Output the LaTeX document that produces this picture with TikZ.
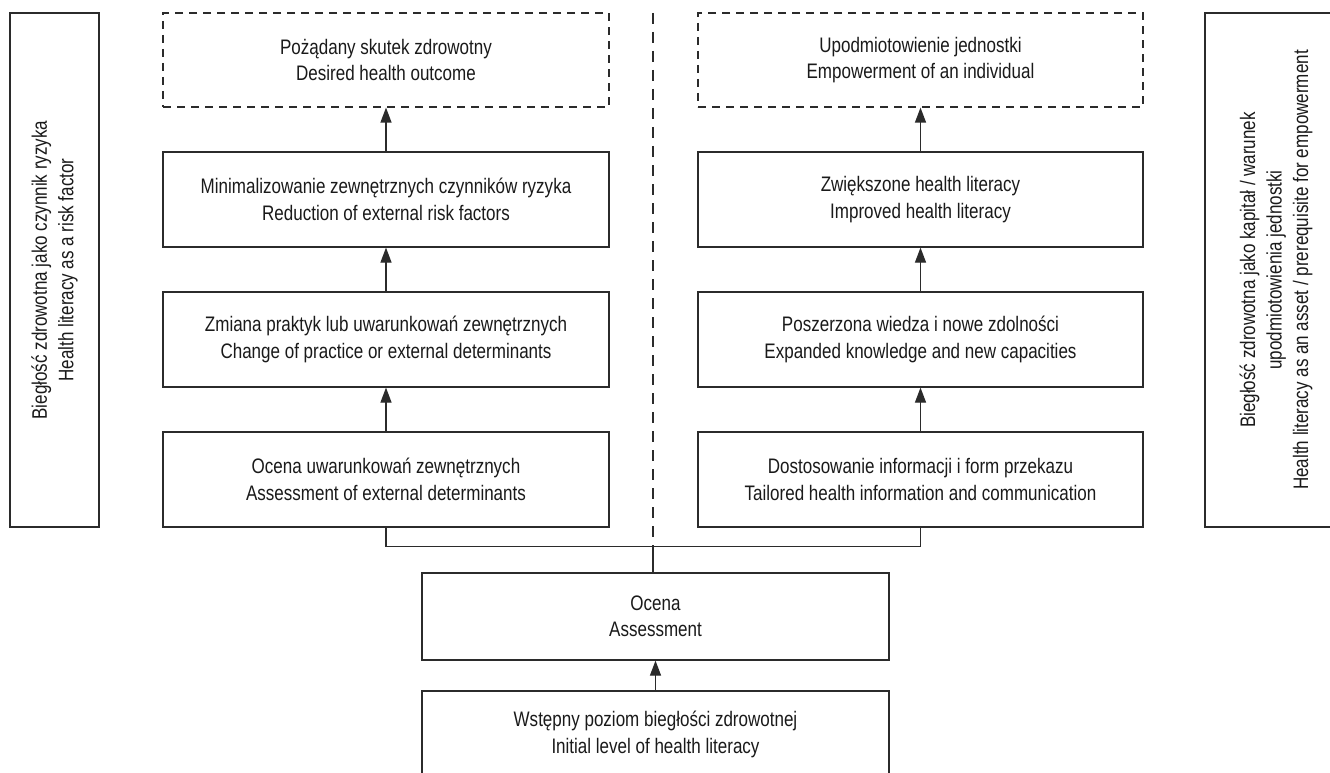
\documentclass[tikz,border=0pt]{standalone}
\usepackage{fontspec}
\setmainfont[FakeStretch=0.81]{Liberation Sans}
\usetikzlibrary{arrows.meta}
\definecolor{ln}{HTML}{2B2B2B}
\definecolor{tx}{HTML}{1A1A1A}
\begin{document}
\begin{tikzpicture}[x=1pt,y=-1pt,
  every node/.style={font=\fontsize{21}{26.5}\selectfont, text=tx, align=center},
  box/.style={draw=ln, line width=1.2pt, minimum width=446pt, minimum height=95pt, inner sep=0pt},
  dbox/.style={box, dash pattern=on 8pt off 6pt},
  side/.style={draw=ln, line width=1.2pt, inner sep=0pt},
  arr/.style={draw=ln, line width=1.2pt, -{Triangle[length=15pt,width=11pt]}},
  conn/.style={draw=ln, line width=1.2pt}]
\useasboundingbox (0,0) rectangle (1330,773);
\clip (0,0) rectangle (1330,773);
\fill[white] (0,0) rectangle (1330,773);
% side boxes
\node[side, rotate=90, minimum width=514pt, minimum height=89pt] (sideL) at (54.5,270)
  {Biegłość zdrowotna jako czynnik ryzyka\\Health literacy as a risk factor};
\node[side, rotate=90, minimum width=514pt, minimum height=142pt] (sideR) at (1276,270)
  {Biegłość zdrowotna jako kapitał / warunek\\upodmiotowienia jednostki\\Health literacy as an asset / prerequisite for empowerment};
% left column
\node[dbox, minimum height=94pt] (L1) at (386,60) {Pożądany skutek zdrowotny\\Desired health outcome};
\node[box] (L2) at (386,199.5) {Minimalizowanie zewnętrznych czynników ryzyka\\Reduction of external risk factors};
\node[box] (L3) at (386,339.5) {Zmiana praktyk lub uwarunkowań zewnętrznych\\Change of practice or external determinants};
\node[box] (L4) at (386,479.5) {Ocena uwarunkowań zewnętrznych\\Assessment of external determinants};
% right column
\node[dbox, minimum height=94pt, minimum width=445pt] (R1) at (920.5,60) {Upodmiotowienie jednostki\\Empowerment of an individual};
\node[box, minimum width=445pt] (R2) at (920.5,199.5) {Zwiększone health literacy\\Improved health literacy};
\node[box, minimum width=445pt] (R3) at (920.5,339.5) {Poszerzona wiedza i nowe zdolności\\Expanded knowledge and new capacities};
\node[box, minimum width=445pt] (R4) at (920.5,479.5) {Dostosowanie informacji i form przekazu\\Tailored health information and communication};
% bottom boxes
\node[box, minimum width=467pt, minimum height=87pt] (ocena) at (655.5,616.5) {Ocena\\Assessment};
\node[box, minimum width=467pt, minimum height=87pt] (init) at (655.5,734.5) {Wstępny poziom biegłości zdrowotnej\\Initial level of health literacy};
% arrows
\draw[arr] (L2.north) -- (L1.south);
\draw[arr] (L3.north) -- (L2.south);
\draw[arr] (L4.north) -- (L3.south);
\draw[arr] (R2.north) -- (R1.south);
\draw[arr] (R3.north) -- (R2.south);
\draw[arr] (R4.north) -- (R3.south);
\draw[arr] (init.north) -- (ocena.south);
% bracket
\draw[conn] (L4.south) -- ++(0,19) -| (R4.south);
\coordinate (bj) at (653,546);
\draw[conn] (bj) -- (bj |- ocena.north);
% divider
\coordinate (dtop) at (653,13);
\draw[conn, dash pattern=on 11pt off 8pt] (dtop) -- (bj);
\end{tikzpicture}
\end{document}
